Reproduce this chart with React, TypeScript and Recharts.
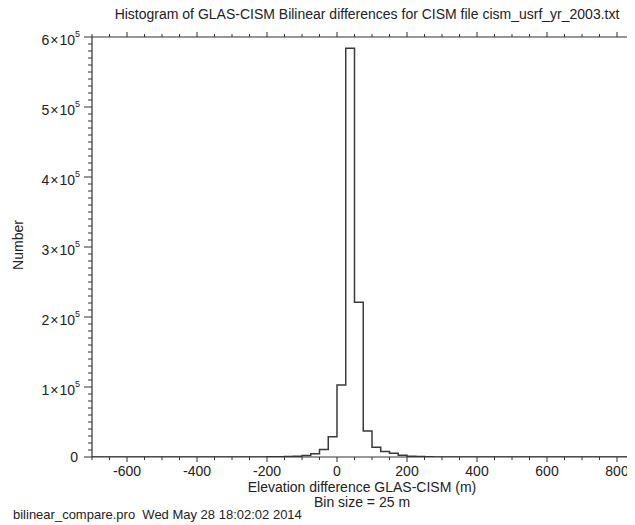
import React from "react";
import { LineChart, Line, XAxis, YAxis } from "recharts";

const binEdges = [-700, -250, -225, -200, -175, -150, -125, -100, -75, -50, -25, 0, 25, 50, 75, 100, 125, 150, 175, 200, 225, 250, 275, 300, 850];
const binCounts = [0, 50, 100, 200, 400, 700, 1200, 2000, 4600, 10700, 29000, 103000, 584000, 221000, 37000, 14000, 8000, 5500, 2500, 1200, 600, 300, 150, 0, 0];

const xTicks = [-700, -650, -600, -550, -500, -450, -400, -350, -300, -250, -200, -150, -100, -50, 0, 50, 100, 150, 200, 250, 300, 350, 400, 450, 500, 550, 600, 650, 700, 750, 800, 850];
const xMajor = [-600, -400, -200, 0, 200, 400, 600, 800];
const yMajor = [0, 100000, 200000, 300000, 400000, 500000, 600000];
const yMinorStep = 10000;

const title = "Histogram of GLAS-CISM Bilinear differences for CISM file cism_usrf_yr_2003.txt";
const xTitle = "Elevation difference GLAS-CISM (m)";
const xSubTitle = "Bin size = 25 m";
const yTitle = "Number";
const footer = "bilinear_compare.pro  Wed May 28 18:02:02 2014";

const data = binEdges.map((e, i) => ({ x: e, n: binCounts[i] }));
const yTicks: number[] = [];
for (let v = 0; v <= 600000; v += yMinorStep) yTicks.push(v);

const FONT = "'Liberation Sans', Arial, Helvetica, sans-serif";
const INK = "#333";

const BottomTick = (props: any) => {
  const { x, y, payload } = props;
  const major = xMajor.includes(payload.value);
  return (
    <g>
      <line x1={x} x2={x} y1={y} y2={y + (major ? 5 : 3)} stroke={INK} strokeWidth={1} />
      {major && (
        <text x={x} y={y + 19} textAnchor="middle" fontSize={14} fontFamily={FONT} fill="#222">
          {payload.value}
        </text>
      )}
    </g>
  );
};

const TopTick = (props: any) => {
  const { x, y, payload } = props;
  const major = xMajor.includes(payload.value);
  return <line x1={x} x2={x} y1={y} y2={y - (major ? 5 : 3)} stroke={INK} strokeWidth={1} />;
};

const LeftTick = (props: any) => {
  const { x, y, payload } = props;
  const v = payload.value;
  const major = yMajor.includes(v);
  const mant = Math.round(v / 100000);
  return (
    <g>
      <line x1={x} x2={x - (major ? 8 : 4)} y1={y} y2={y} stroke={INK} strokeWidth={1} />
      {major &&
        (v === 0 ? (
          <text x={x - 14} y={y + 5} textAnchor="end" fontSize={14} fontFamily={FONT} fill="#222">
            0
          </text>
        ) : (
          <text x={x - 12} y={y + 8} textAnchor="end" fontSize={14} fontFamily={FONT} fill="#222">
            {mant}
            <tspan dx={1}>×</tspan>
            <tspan dx={1}>10</tspan>
            <tspan fontSize={9} dy={-8}>5</tspan>
          </text>
        ))}
    </g>
  );
};

export default function App() {
  return (
    <div style={{ position: "relative", width: 627, height: 517, fontFamily: FONT, color: "#222" }}>
      <LineChart
        width={627}
        height={517}
        data={data}
        margin={{ top: 19, right: 0.5, bottom: 38, left: 0 }}
      >
        <XAxis
          xAxisId="bottom"
          dataKey="x"
          type="number"
          domain={[-700, 850]}
          ticks={xTicks}
          interval={0}
          height={30}
          tickSize={0}
          tickMargin={0}
          tickLine={false}
          axisLine={{ stroke: INK, strokeWidth: 1.2 }}
          tick={<BottomTick />}
          allowDataOverflow
        />
        <XAxis
          xAxisId="top"
          orientation="top"
          dataKey="x"
          type="number"
          domain={[-700, 850]}
          ticks={xTicks}
          interval={0}
          height={10}
          tickSize={0}
          tickMargin={0}
          tickLine={false}
          axisLine={{ stroke: INK, strokeWidth: 1.2 }}
          tick={<TopTick />}
          allowDataOverflow
        />
        <YAxis
          type="number"
          domain={[0, 600000]}
          ticks={yTicks}
          interval={0}
          width={84}
          tickSize={0}
          tickMargin={0}
          tickLine={false}
          axisLine={{ stroke: INK, strokeWidth: 1.2 }}
          tick={<LeftTick />}
          allowDataOverflow
        />
        <Line
          xAxisId="bottom"
          type="stepAfter"
          dataKey="n"
          stroke="#3a3a3a"
          strokeWidth={1.5}
          dot={false}
          activeDot={false}
          isAnimationActive={false}
        />
      </LineChart>
      <div style={{ position: "absolute", left: 367 - 8 - 300, width: 600, top: -2, textAlign: "center", fontSize: 14, whiteSpace: "nowrap" }}>
        {title}
      </div>
      <div style={{ position: "absolute", left: 362 - 8 - 200, width: 400, top: 471, textAlign: "center", fontSize: 14, whiteSpace: "nowrap" }}>
        {xTitle}
      </div>
      <div style={{ position: "absolute", left: 362 - 8 - 200, width: 400, top: 486, textAlign: "center", fontSize: 14, whiteSpace: "nowrap" }}>
        {xSubTitle}
      </div>
      <div style={{ position: "absolute", left: 5, top: 499, fontSize: 13, whiteSpace: "pre" }}>
        {footer}
      </div>
      <div
        style={{
          position: "absolute",
          left: 18 - 8 - 40,
          width: 80,
          height: 16,
          lineHeight: "16px",
          top: 245 - 8 - 8,
          textAlign: "center",
          fontSize: 14,
          transform: "rotate(-90deg)",
          whiteSpace: "nowrap",
        }}
      >
        {yTitle}
      </div>
    </div>
  );
}
